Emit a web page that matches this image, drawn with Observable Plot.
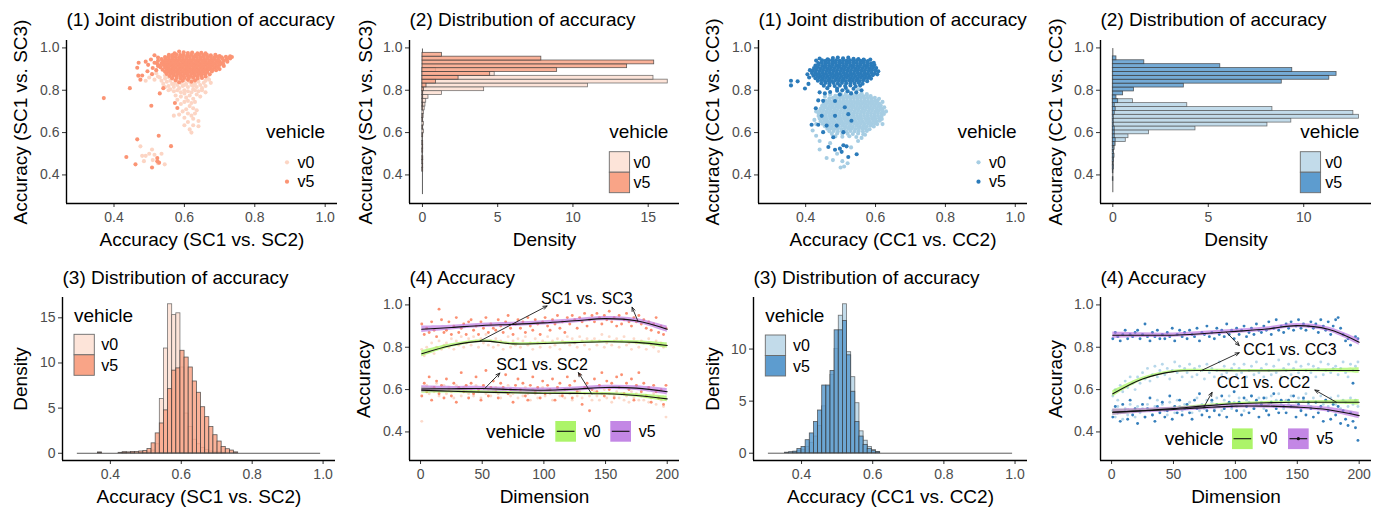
<!DOCTYPE html>
<html>
<head>
<meta charset="utf-8">
<title>Accuracy distributions</title>
<script src="https://cdn.jsdelivr.net/npm/d3@7"></script>
<script src="https://cdn.jsdelivr.net/npm/@observablehq/plot@0.6"></script>
<style>
  html, body { margin: 0; padding: 0; background: #ffffff; }
  #figure { position: relative; width: 1385px; height: 510px; overflow: hidden; }
  #figure > div { position: absolute; }
  #figure svg { display: block; }
</style>
</head>
<body>
<div id="figure"></div>
<script>
// ------------------------------------------------------------------
// Data
// ------------------------------------------------------------------
const vehicles = ["v0", "v5"];

// (1) joint accuracy per sample: flat [x, y, x, y, ...] lists
const scJointV0 = [
  0.50,0.86, 0.515,0.85, 0.525,0.865, 0.535,0.845, 0.54,0.83, 0.545,0.855, 0.55,0.84, 0.555,0.82, 0.56,0.845, 0.565,0.83,
  0.57,0.815, 0.575,0.84, 0.58,0.825, 0.585,0.81, 0.59,0.835, 0.595,0.82, 0.60,0.80, 0.605,0.83, 0.61,0.815, 0.615,0.84,
  0.62,0.825, 0.625,0.805, 0.63,0.83, 0.635,0.815, 0.64,0.84, 0.645,0.825, 0.65,0.81, 0.655,0.835, 0.66,0.82,
  0.555,0.862, 0.565,0.855, 0.585,0.852, 0.60,0.848, 0.62,0.852, 0.64,0.855, 0.555,0.80, 0.545,0.815, 0.57,0.83,
  0.60,0.825, 0.625,0.82, 0.65,0.80, 0.66,0.79,
  0.56,0.805, 0.57,0.795, 0.58,0.80, 0.59,0.79, 0.60,0.785, 0.61,0.795, 0.62,0.79, 0.63,0.80, 0.64,0.795, 0.575,0.775,
  0.59,0.77, 0.605,0.765, 0.615,0.775, 0.625,0.76, 0.635,0.78, 0.645,0.77, 0.58,0.755, 0.60,0.745, 0.61,0.75, 0.62,0.74,
  0.63,0.745, 0.59,0.735, 0.615,0.725, 0.625,0.715, 0.605,0.71, 0.635,0.705, 0.595,0.70, 0.61,0.69, 0.62,0.68, 0.63,0.69,
  0.585,0.685, 0.60,0.67, 0.625,0.665, 0.57,0.68, 0.64,0.655, 0.61,0.65, 0.625,0.635, 0.64,0.63, 0.62,0.60, 0.615,0.615,
  0.60,0.635, 0.53,0.86, 0.545,0.87, 0.66,0.845, 0.665,0.86, 0.67,0.85, 0.675,0.835, 0.52,0.88, 0.49,0.845,
  0.475,0.535, 0.48,0.49, 0.49,0.49, 0.508,0.52, 0.51,0.47, 0.515,0.495, 0.525,0.455, 0.535,0.50, 0.544,0.45, 0.485,0.465, 0.50,0.50
];
const scJointV5 = [
  0.572,0.975, 0.585,0.983, 0.598,0.979, 0.61,0.976, 0.622,0.978, 0.637,0.975, 0.648,0.977, 0.66,0.974,
  0.556,0.968, 0.566,0.966, 0.577,0.969, 0.588,0.967, 0.598,0.968, 0.609,0.966, 0.62,0.969, 0.631,0.966, 0.642,0.968, 0.653,0.966, 0.664,0.967, 0.675,0.965, 0.688,0.968, 0.70,0.962,
  0.545,0.957, 0.555,0.959, 0.565,0.957, 0.575,0.958, 0.585,0.956, 0.595,0.958, 0.605,0.957, 0.615,0.959, 0.625,0.957, 0.635,0.958, 0.645,0.956, 0.655,0.958, 0.665,0.957, 0.675,0.958, 0.685,0.956, 0.695,0.958, 0.706,0.956, 0.718,0.958, 0.728,0.955, 0.735,0.957,
  0.535,0.947, 0.546,0.949, 0.556,0.947, 0.566,0.948, 0.576,0.946, 0.586,0.948, 0.596,0.947, 0.606,0.949, 0.616,0.947, 0.626,0.948, 0.636,0.946, 0.646,0.948, 0.656,0.947, 0.666,0.949, 0.676,0.947, 0.686,0.948, 0.696,0.946, 0.708,0.949, 0.72,0.947, 0.73,0.95,
  0.525,0.939, 0.54,0.937, 0.55,0.938, 0.56,0.936, 0.57,0.938, 0.58,0.937, 0.59,0.939, 0.60,0.937, 0.61,0.938, 0.62,0.936, 0.63,0.938, 0.64,0.937, 0.65,0.939, 0.66,0.937, 0.67,0.938, 0.68,0.936, 0.69,0.938, 0.70,0.937, 0.712,0.939,
  0.522,0.927, 0.535,0.929, 0.545,0.927, 0.555,0.928, 0.565,0.926, 0.575,0.928, 0.585,0.927, 0.595,0.929, 0.605,0.927, 0.615,0.928, 0.625,0.926, 0.635,0.928, 0.645,0.927, 0.655,0.929, 0.665,0.927, 0.675,0.928, 0.685,0.926, 0.695,0.929, 0.705,0.927,
  0.53,0.917, 0.54,0.919, 0.55,0.917, 0.56,0.918, 0.57,0.916, 0.58,0.918, 0.59,0.917, 0.60,0.919, 0.61,0.917, 0.62,0.918, 0.63,0.916, 0.64,0.918, 0.65,0.917, 0.66,0.919, 0.67,0.917, 0.68,0.918, 0.69,0.916, 0.70,0.919, 0.712,0.915,
  0.532,0.909, 0.545,0.907, 0.555,0.908, 0.565,0.906, 0.575,0.908, 0.585,0.907, 0.595,0.909, 0.605,0.907, 0.615,0.908, 0.625,0.906, 0.635,0.908, 0.645,0.907, 0.655,0.909, 0.665,0.907, 0.675,0.908, 0.685,0.906, 0.695,0.908,
  0.538,0.897, 0.55,0.899, 0.56,0.897, 0.57,0.898, 0.58,0.896, 0.59,0.898, 0.60,0.897, 0.61,0.899, 0.62,0.897, 0.63,0.898, 0.64,0.896, 0.65,0.898, 0.66,0.897, 0.67,0.899, 0.68,0.897, 0.69,0.895,
  0.545,0.887, 0.555,0.889, 0.565,0.887, 0.575,0.888, 0.585,0.886, 0.595,0.888, 0.605,0.887, 0.615,0.889, 0.625,0.887, 0.635,0.888, 0.645,0.886, 0.655,0.888, 0.665,0.887, 0.678,0.889,
  0.55,0.877, 0.56,0.879, 0.57,0.877, 0.58,0.878, 0.59,0.876, 0.60,0.878, 0.61,0.877, 0.62,0.879, 0.63,0.877, 0.64,0.878, 0.65,0.876, 0.66,0.878, 0.672,0.875,
  0.558,0.867, 0.568,0.869, 0.578,0.867, 0.588,0.868, 0.598,0.866, 0.608,0.868, 0.618,0.867, 0.628,0.869, 0.638,0.867, 0.648,0.868, 0.66,0.865,
  0.565,0.857, 0.578,0.859, 0.59,0.856, 0.60,0.858, 0.612,0.857, 0.625,0.859, 0.637,0.856, 0.65,0.858,
  0.575,0.847, 0.595,0.845, 0.61,0.849, 0.63,0.846, 0.585,0.838, 0.62,0.84,
  0.49,0.935, 0.497,0.92, 0.505,0.945, 0.51,0.905, 0.515,0.93, 0.48,0.87, 0.495,0.89, 0.508,0.876, 0.52,0.895, 0.525,0.915,
  0.47,0.93, 0.525,0.955, 0.515,0.965, 0.469,0.869, 0.466,0.906, 0.475,0.85, 0.722,0.935, 0.73,0.96, 0.70,0.90, 0.71,0.925,
  0.371,0.763, 0.445,0.81, 0.506,0.727, 0.58,0.716, 0.466,0.568, 0.527,0.585, 0.562,0.536, 0.435,0.485, 0.461,0.45,
  0.508,0.435, 0.523,0.48, 0.523,0.465, 0.528,0.458, 0.573,0.74, 0.53,0.785, 0.54,0.81
];
const ccJointV0 = [
  0.50,0.786, 0.515,0.783, 0.53,0.787, 0.545,0.784, 0.56,0.786, 0.575,0.782, 0.52,0.80, 0.55,0.805,
  0.485,0.774, 0.495,0.776, 0.505,0.773, 0.515,0.775, 0.525,0.772, 0.535,0.776, 0.545,0.774, 0.555,0.775, 0.565,0.773, 0.575,0.776, 0.586,0.772,
  0.468,0.762, 0.478,0.764, 0.488,0.761, 0.498,0.763, 0.508,0.761, 0.518,0.764, 0.528,0.762, 0.538,0.763, 0.548,0.761, 0.558,0.764, 0.568,0.762, 0.578,0.763, 0.588,0.761, 0.598,0.764,
  0.458,0.750, 0.468,0.752, 0.478,0.749, 0.488,0.751, 0.498,0.749, 0.508,0.752, 0.518,0.750, 0.528,0.751, 0.538,0.749, 0.548,0.752, 0.558,0.750, 0.568,0.751, 0.578,0.749, 0.588,0.752, 0.598,0.750, 0.606,0.751,
  0.452,0.738, 0.462,0.740, 0.472,0.737, 0.482,0.739, 0.492,0.737, 0.502,0.740, 0.512,0.738, 0.522,0.739, 0.532,0.737, 0.542,0.740, 0.552,0.738, 0.562,0.739, 0.572,0.737, 0.582,0.740, 0.592,0.738, 0.602,0.739, 0.611,0.736,
  0.447,0.726, 0.457,0.728, 0.467,0.725, 0.477,0.727, 0.487,0.725, 0.497,0.728, 0.507,0.726, 0.517,0.727, 0.527,0.725, 0.537,0.728, 0.547,0.726, 0.557,0.727, 0.567,0.725, 0.577,0.728, 0.587,0.726, 0.597,0.727, 0.607,0.725, 0.615,0.728,
  0.443,0.714, 0.453,0.716, 0.463,0.713, 0.473,0.715, 0.483,0.713, 0.493,0.716, 0.503,0.714, 0.513,0.715, 0.523,0.713, 0.533,0.716, 0.543,0.714, 0.553,0.715, 0.563,0.713, 0.573,0.716, 0.583,0.714, 0.593,0.715, 0.603,0.713, 0.613,0.716, 0.62,0.712,
  0.44,0.702, 0.45,0.704, 0.46,0.701, 0.47,0.703, 0.48,0.701, 0.49,0.704, 0.50,0.702, 0.51,0.703, 0.52,0.701, 0.53,0.704, 0.54,0.702, 0.55,0.703, 0.56,0.701, 0.57,0.704, 0.58,0.702, 0.59,0.703, 0.60,0.701, 0.61,0.704, 0.62,0.70,
  0.437,0.690, 0.447,0.692, 0.457,0.689, 0.467,0.691, 0.477,0.689, 0.487,0.692, 0.497,0.690, 0.507,0.691, 0.517,0.689, 0.527,0.692, 0.537,0.690, 0.547,0.691, 0.557,0.689, 0.567,0.692, 0.577,0.690, 0.587,0.691, 0.597,0.689, 0.607,0.692, 0.617,0.690, 0.624,0.688,
  0.437,0.678, 0.447,0.680, 0.457,0.677, 0.467,0.679, 0.477,0.677, 0.487,0.680, 0.497,0.678, 0.507,0.679, 0.517,0.677, 0.527,0.680, 0.537,0.678, 0.547,0.679, 0.557,0.677, 0.567,0.680, 0.577,0.678, 0.587,0.679, 0.597,0.677, 0.607,0.680, 0.617,0.676,
  0.44,0.666, 0.45,0.668, 0.46,0.665, 0.47,0.667, 0.48,0.665, 0.49,0.668, 0.50,0.666, 0.51,0.667, 0.52,0.665, 0.53,0.668, 0.54,0.666, 0.55,0.667, 0.56,0.665, 0.57,0.668, 0.58,0.666, 0.59,0.667, 0.60,0.665, 0.61,0.668, 0.618,0.664,
  0.443,0.654, 0.453,0.656, 0.463,0.653, 0.473,0.655, 0.483,0.653, 0.493,0.656, 0.503,0.654, 0.513,0.655, 0.523,0.653, 0.533,0.656, 0.543,0.654, 0.553,0.655, 0.563,0.653, 0.573,0.656, 0.583,0.654, 0.593,0.655, 0.603,0.653, 0.612,0.656,
  0.448,0.642, 0.458,0.644, 0.468,0.641, 0.478,0.643, 0.488,0.641, 0.498,0.644, 0.508,0.642, 0.518,0.643, 0.528,0.641, 0.538,0.644, 0.548,0.642, 0.558,0.643, 0.568,0.641, 0.578,0.644, 0.588,0.642, 0.598,0.643, 0.605,0.640,
  0.455,0.630, 0.465,0.632, 0.475,0.629, 0.485,0.631, 0.495,0.629, 0.505,0.632, 0.515,0.630, 0.525,0.631, 0.535,0.629, 0.545,0.632, 0.555,0.630, 0.565,0.631, 0.575,0.629, 0.585,0.632, 0.595,0.629,
  0.462,0.618, 0.472,0.620, 0.482,0.617, 0.492,0.619, 0.502,0.617, 0.512,0.620, 0.522,0.618, 0.532,0.619, 0.542,0.617, 0.552,0.620, 0.562,0.618, 0.572,0.619, 0.583,0.616,
  0.468,0.606, 0.48,0.608, 0.492,0.605, 0.504,0.607, 0.516,0.605, 0.528,0.608, 0.54,0.606, 0.552,0.607, 0.564,0.605, 0.575,0.608,
  0.475,0.594, 0.49,0.596, 0.505,0.593, 0.52,0.595, 0.535,0.593, 0.55,0.596, 0.565,0.592,
  0.485,0.582, 0.505,0.580, 0.525,0.583, 0.545,0.579, 0.43,0.585,
  0.44,0.52, 0.46,0.48, 0.478,0.47, 0.50,0.435, 0.51,0.44, 0.52,0.455, 0.505,0.465, 0.49,0.50, 0.47,0.55, 0.53,0.53,
  0.55,0.56, 0.56,0.575, 0.57,0.59, 0.44,0.56, 0.42,0.61, 0.43,0.64, 0.425,0.66, 0.43,0.70, 0.62,0.64, 0.63,0.70,
  0.625,0.72, 0.61,0.76, 0.47,0.78, 0.455,0.77, 0.62,0.745
];
const ccJointV5 = [
  0.478,0.952, 0.492,0.955, 0.507,0.951, 0.522,0.954, 0.537,0.949, 0.551,0.947, 0.463,0.946, 0.566,0.945,
  0.447,0.941, 0.457,0.939, 0.467,0.942, 0.477,0.940, 0.487,0.942, 0.497,0.939, 0.507,0.941, 0.517,0.939, 0.527,0.942, 0.537,0.940, 0.547,0.942, 0.557,0.939, 0.567,0.941, 0.578,0.938,
  0.436,0.929, 0.446,0.931, 0.456,0.928, 0.466,0.930, 0.476,0.928, 0.486,0.931, 0.496,0.929, 0.506,0.930, 0.516,0.928, 0.526,0.931, 0.536,0.929, 0.546,0.930, 0.556,0.928, 0.566,0.931, 0.576,0.929, 0.587,0.927,
  0.428,0.917, 0.438,0.919, 0.448,0.916, 0.458,0.918, 0.468,0.916, 0.478,0.919, 0.488,0.917, 0.498,0.918, 0.508,0.916, 0.518,0.919, 0.528,0.917, 0.538,0.918, 0.548,0.916, 0.558,0.919, 0.568,0.917, 0.578,0.918, 0.588,0.916, 0.597,0.919,
  0.424,0.905, 0.433,0.907, 0.443,0.904, 0.453,0.906, 0.463,0.904, 0.473,0.907, 0.483,0.905, 0.493,0.906, 0.503,0.904, 0.513,0.907, 0.523,0.905, 0.533,0.906, 0.543,0.904, 0.553,0.907, 0.563,0.905, 0.573,0.906, 0.583,0.904, 0.593,0.907, 0.602,0.905,
  0.420,0.893, 0.430,0.895, 0.440,0.892, 0.450,0.894, 0.460,0.892, 0.470,0.895, 0.480,0.893, 0.490,0.894, 0.500,0.892, 0.510,0.895, 0.520,0.893, 0.530,0.894, 0.540,0.892, 0.550,0.895, 0.560,0.893, 0.570,0.894, 0.580,0.892, 0.590,0.895, 0.600,0.893,
  0.418,0.881, 0.428,0.883, 0.438,0.880, 0.448,0.882, 0.458,0.880, 0.468,0.883, 0.478,0.881, 0.488,0.882, 0.498,0.880, 0.508,0.883, 0.518,0.881, 0.528,0.882, 0.538,0.880, 0.548,0.883, 0.558,0.881, 0.568,0.882, 0.578,0.880, 0.588,0.883, 0.598,0.879,
  0.422,0.869, 0.432,0.871, 0.442,0.868, 0.452,0.870, 0.462,0.868, 0.472,0.871, 0.482,0.869, 0.492,0.870, 0.502,0.868, 0.512,0.871, 0.522,0.869, 0.532,0.870, 0.542,0.868, 0.552,0.871, 0.562,0.869, 0.572,0.870, 0.582,0.868, 0.592,0.871,
  0.428,0.857, 0.438,0.859, 0.448,0.856, 0.458,0.858, 0.468,0.856, 0.478,0.859, 0.488,0.857, 0.498,0.858, 0.508,0.856, 0.518,0.859, 0.528,0.857, 0.538,0.858, 0.548,0.856, 0.558,0.859, 0.568,0.857, 0.578,0.858, 0.587,0.855,
  0.435,0.845, 0.445,0.847, 0.455,0.844, 0.465,0.846, 0.475,0.844, 0.485,0.847, 0.495,0.845, 0.505,0.846, 0.515,0.844, 0.525,0.847, 0.535,0.845, 0.545,0.846, 0.555,0.844, 0.565,0.847, 0.576,0.843,
  0.445,0.833, 0.457,0.835, 0.468,0.832, 0.480,0.834, 0.492,0.832, 0.504,0.835, 0.516,0.833, 0.528,0.834, 0.540,0.832, 0.552,0.835, 0.563,0.831,
  0.452,0.821, 0.468,0.823, 0.483,0.820, 0.498,0.822, 0.513,0.820, 0.528,0.823, 0.543,0.819, 0.556,0.822,
  0.462,0.81, 0.49,0.808, 0.515,0.811, 0.537,0.807, 0.505,0.80,
  0.44,0.79, 0.455,0.785, 0.47,0.792, 0.49,0.798, 0.52,0.795, 0.53,0.785, 0.545,0.79, 0.56,0.80, 0.41,0.86, 0.405,0.875,
  0.412,0.895, 0.608,0.89, 0.605,0.875, 0.595,0.93, 0.585,0.945, 0.43,0.94, 0.44,0.95,
  0.358,0.845, 0.358,0.823, 0.377,0.842, 0.398,0.808, 0.408,0.83, 0.436,0.752, 0.45,0.75, 0.484,0.749, 0.498,0.78, 0.512,0.72,
  0.429,0.715, 0.446,0.679, 0.484,0.679, 0.46,0.633, 0.489,0.633, 0.417,0.637, 0.436,0.637, 0.522,0.687, 0.531,0.656, 0.479,0.578,
  0.508,0.602, 0.465,0.532, 0.498,0.524, 0.503,0.509, 0.517,0.535, 0.522,0.485, 0.546,0.498, 0.484,0.519, 0.508,0.54, 0.45,0.602
];

// (2) density of accuracy (SC1 vs. SC3 / CC1 vs. CC3), equal-width bins, lowest bin first
const scSC3BinStart = 0.307, scSC3BinWidth = 0.0181;
const scSC3DensityV0 = [0,0,0,0,0,0,0.05,0,0.05,0.05,0.03,0.05,0,0.05,0.03,0.05,0.1,0.05,0.1,0.05,
  0.08,0.1,0.15,0.2,0.25,0.4,1.3,4.1,11.0,16.3,15.35,4.8,0.9,0,0,0,0,0];
const scSC3DensityV5 = [0,0,0,0,0,0,0.03,0.05,0.03,0.05,0,0.03,0.05,0.03,0,0.03,0,0.03,0,0.03,
  0.03,0,0.03,0.05,0.03,0.05,0.05,0.1,0.27,0.9,2.4,4.5,8.95,13.6,15.4,7.9,1.3,0];
const ccCC3BinStart = 0.316, ccCC3BinWidth = 0.0184;
const ccCC3DensityV0 = [0,0,0,0,0,0,0.03,0.05,0.05,0.08,0.05,0.1,0.15,0.68,0.82,1.9,4.33,8.1,9.35,12.9,
  12.6,8.36,3.9,1.06,0.1,0,0,0,0,0,0,0,0,0,0,0,0];
const ccCC3DensityV5 = [0,0,0,0.03,0,0.03,0.05,0.03,0.05,0.08,0.05,0.05,0.1,0.15,0.1,0.1,0.1,0.05,0.05,0.05,
  0.1,0.15,0.1,0.28,0.19,0.54,1.11,3.72,8.85,11.34,11.72,9.4,5.63,1.65,0.19,0,0];

// (3) density of accuracy (SC1 vs. SC2 / CC1 vs. CC2), equal-width bins, lowest bin first
const pairBinStart = 0.3069, pairBinWidth = 0.01163;
const scSC2DensityV0 = [0,0,0,0,0,0.1,0,0,0,0,0,0.1,0,0.05,0,0.05,0.05,0.1,0.3,1.0,
  6.0,11.6,16.5,15.3,15.5,9.5,4.4,2.9,1.5,1.0,0.6,0.35,0.2,0.1,0.1,0.05,0,0,0,0,
  0,0,0,0,0,0,0,0,0,0,0,0,0,0,0,0,0,0,0];
const scSC2DensityV5 = [0,0,0,0,0,0.05,0,0,0,0,0.05,0.1,0.1,0.15,0.15,0.2,0.25,0.47,1.1,2.2,
  3.3,4.75,7.1,9.15,9.4,11.35,10.6,9.5,7.95,6.7,5.1,4.0,2.9,2.0,1.3,0.7,0.45,0.3,0.1,0,
  0,0,0,0,0,0,0,0,0,0,0,0,0,0,0,0,0,0,0];
const ccCC2DensityV0 = [0,0,0,0,0,0,0.1,0.2,0.3,0.6,1.0,1.6,2.6,4.5,6.4,7.5,10.0,13.2,14.3,9.7,
  7.3,4.8,2.1,1.2,0.6,0.3,0.1,0,0,0,0,0,0,0,0,0,0,0,0,0,
  0,0,0,0,0,0,0,0,0,0,0,0,0,0,0,0,0,0,0];
const ccCC2DensityV5 = [0,0,0,0,0.05,0.1,0.15,0.4,0.6,1.25,1.9,3.0,4.1,6.5,6.5,7.9,11.8,11.8,12.7,9.4,
  5.9,3.0,1.6,0.8,0.4,0.2,0.1,0,0,0,0,0,0,0,0,0,0,0,0,0,
  0,0,0,0,0,0,0,0,0,0,0,0,0,0,0,0,0,0,0];

// (4) accuracy per dimension (dimensions 1, 3, 5, ..., 199)
const scAcc3V0 = [0.79,0.76,0.80,0.78,0.82,0.77,0.80,0.83,0.79,0.81, 0.82,0.80,0.84,0.79,0.83,0.81,0.85,0.80,0.82,0.84,
  0.81,0.85,0.83,0.80,0.84,0.82,0.86,0.81,0.83,0.80, 0.84,0.81,0.83,0.79,0.82,0.85,0.80,0.83,0.81,0.84,
  0.80,0.83,0.85,0.81,0.82,0.79,0.84,0.82,0.80,0.83, 0.82,0.85,0.80,0.83,0.81,0.84,0.79,0.83,0.82,0.85,
  0.81,0.84,0.82,0.80,0.85,0.83,0.81,0.84,0.79,0.83, 0.84,0.81,0.83,0.86,0.80,0.82,0.85,0.81,0.83,0.84,
  0.80,0.83,0.85,0.81,0.82,0.79,0.84,0.82,0.80,0.83, 0.82,0.79,0.84,0.81,0.80,0.83,0.78,0.82,0.80,0.81];
const scAcc3V5 = [0.91,0.86,0.89,0.87,0.92,0.88,0.85,0.98,0.93,0.87, 0.88,0.92,0.86,0.90,0.94,0.87,0.89,0.91,0.86,0.92,
  0.93,0.88,0.90,0.86,0.92,0.89,0.94,0.87,0.91,0.89, 0.88,0.93,0.90,0.87,0.92,0.95,0.89,0.86,0.91,0.93,
  0.89,0.92,0.87,0.94,0.90,0.88,0.93,0.91,0.86,0.92, 0.94,0.90,0.88,0.93,0.91,0.95,0.89,0.92,0.87,0.94,
  0.91,0.95,0.93,0.89,0.94,0.92,0.96,0.90,0.93,0.95, 0.92,0.96,0.94,0.91,0.95,0.93,0.97,0.92,0.94,0.90,
  0.95,0.91,0.93,0.96,0.92,0.90,0.94,0.92,0.95,0.91, 0.93,0.89,0.92,0.88,0.91,0.94,0.87,0.90,0.86,0.89];
const scAcc2V0 = [0.45,0.60,0.62,0.58,0.61,0.59,0.63,0.57,0.60,0.62, 0.58,0.61,0.59,0.56,0.62,0.60,0.57,0.61,0.59,0.58,
  0.60,0.57,0.62,0.59,0.56,0.61,0.58,0.60,0.57,0.59, 0.61,0.58,0.56,0.60,0.59,0.62,0.57,0.58,0.60,0.56,
  0.59,0.57,0.61,0.58,0.55,0.60,0.58,0.56,0.59,0.61, 0.57,0.60,0.58,0.55,0.59,0.61,0.57,0.58,0.56,0.60,
  0.58,0.55,0.60,0.57,0.59,0.56,0.58,0.61,0.57,0.55, 0.59,0.57,0.55,0.58,0.60,0.56,0.58,0.54,0.57,0.59,
  0.56,0.58,0.55,0.57,0.54,0.59,0.56,0.58,0.55,0.57, 0.55,0.57,0.54,0.56,0.58,0.53,0.56,0.55,0.52,0.47];
const scAcc2V5 = [0.57,0.63,0.59,0.66,0.55,0.61,0.64,0.58,0.62,0.56, 0.65,0.60,0.57,0.63,0.54,0.61,0.68,0.59,0.62,0.56,
  0.63,0.58,0.66,0.60,0.55,0.62,0.69,0.57,0.61,0.64, 0.59,0.56,0.63,0.61,0.67,0.58,0.60,0.54,0.62,0.65,
  0.60,0.63,0.57,0.55,0.62,0.66,0.59,0.61,0.56,0.64, 0.58,0.62,0.60,0.65,0.55,0.61,0.63,0.57,0.60,0.66,
  0.62,0.56,0.64,0.59,0.67,0.53,0.61,0.63,0.50,0.60, 0.65,0.59,0.62,0.68,0.57,0.64,0.60,0.63,0.56,0.66,
  0.61,0.67,0.58,0.63,0.60,0.65,0.55,0.62,0.68,0.59, 0.63,0.57,0.61,0.54,0.62,0.59,0.56,0.60,0.53,0.62];
const ccAcc3V0 = [0.57,0.60,0.55,0.62,0.59,0.64,0.61,0.66,0.63,0.60, 0.66,0.63,0.68,0.65,0.70,0.64,0.67,0.71,0.66,0.69,
  0.72,0.67,0.70,0.65,0.69,0.73,0.68,0.71,0.66,0.70, 0.68,0.72,0.66,0.70,0.67,0.71,0.69,0.65,0.72,0.68,
  0.70,0.66,0.69,0.73,0.67,0.71,0.68,0.65,0.70,0.72, 0.67,0.70,0.68,0.72,0.66,0.69,0.71,0.67,0.73,0.68,
  0.70,0.66,0.72,0.69,0.67,0.71,0.68,0.74,0.66,0.70, 0.69,0.72,0.67,0.70,0.73,0.68,0.71,0.66,0.69,0.72,
  0.68,0.71,0.66,0.70,0.73,0.67,0.69,0.72,0.68,0.70, 0.71,0.67,0.70,0.73,0.68,0.66,0.72,0.69,0.71,0.73];
const ccAcc3V5 = [0.84,0.87,0.85,0.83,0.86,0.88,0.84,0.86,0.85,0.87, 0.88,0.84,0.86,0.91,0.85,0.83,0.87,0.85,0.88,0.84,
  0.86,0.84,0.87,0.85,0.89,0.83,0.86,0.88,0.85,0.87, 0.84,0.88,0.86,0.85,0.89,0.83,0.87,0.86,0.90,0.85,
  0.87,0.84,0.89,0.86,0.88,0.85,0.91,0.86,0.88,0.84, 0.89,0.86,0.88,0.90,0.85,0.87,0.89,0.86,0.91,0.88,
  0.87,0.90,0.88,0.92,0.86,0.89,0.93,0.88,0.90,0.87, 0.91,0.89,0.92,0.88,0.90,0.93,0.89,0.91,0.88,0.90,
  0.92,0.89,0.91,0.87,0.93,0.90,0.88,0.92,0.86,0.90, 0.93,0.94,0.89,0.86,0.83,0.84,0.81,0.63,0.85,0.84];
const ccAcc2V0 = [0.50,0.47,0.52,0.49,0.46,0.51,0.48,0.53,0.50,0.47, 0.52,0.49,0.51,0.47,0.53,0.50,0.48,0.52,0.55,0.50,
  0.53,0.50,0.48,0.54,0.51,0.49,0.55,0.52,0.50,0.53, 0.51,0.54,0.49,0.52,0.56,0.50,0.53,0.51,0.55,0.52,
  0.54,0.51,0.56,0.52,0.50,0.55,0.53,0.57,0.51,0.54, 0.52,0.56,0.53,0.50,0.55,0.54,0.57,0.51,0.53,0.56,
  0.54,0.51,0.56,0.53,0.57,0.52,0.55,0.58,0.53,0.51, 0.55,0.53,0.57,0.52,0.54,0.56,0.51,0.55,0.58,0.53,
  0.52,0.56,0.54,0.51,0.57,0.53,0.55,0.52,0.56,0.54, 0.53,0.57,0.51,0.55,0.54,0.52,0.56,0.53,0.55,0.52];
const ccAcc2V5 = [0.47,0.52,0.49,0.45,0.53,0.50,0.46,0.55,0.48,0.51, 0.44,0.50,0.53,0.47,0.51,0.56,0.48,0.45,0.52,0.49,
  0.54,0.47,0.50,0.57,0.46,0.52,0.49,0.55,0.48,0.51, 0.53,0.49,0.46,0.55,0.51,0.58,0.48,0.52,0.50,0.47,
  0.55,0.50,0.53,0.48,0.57,0.51,0.47,0.54,0.52,0.59, 0.50,0.54,0.48,0.56,0.52,0.49,0.57,0.51,0.55,0.47,
  0.53,0.56,0.50,0.48,0.54,0.58,0.51,0.49,0.55,0.52, 0.49,0.55,0.52,0.57,0.47,0.53,0.50,0.56,0.48,0.54,
  0.51,0.47,0.54,0.49,0.52,0.45,0.55,0.50,0.46,0.53, 0.48,0.52,0.44,0.50,0.46,0.43,0.49,0.45,0.42,0.36];

// loess fits of the accuracy curves at fixed dimensions, with standard-error half widths
const smoothDims = [1, 25, 50, 75, 100, 125, 150, 175, 200];
const scFit3V0 = [0.769, 0.808, 0.829, 0.816, 0.818, 0.822, 0.826, 0.823, 0.808];
const scFit3V5 = [0.885, 0.893, 0.903, 0.908, 0.915, 0.925, 0.935, 0.925, 0.885];
const scFit2V0 = [0.597, 0.592, 0.588, 0.585, 0.583, 0.582, 0.580, 0.572, 0.556];
const scFit2V5 = [0.603, 0.604, 0.605, 0.600, 0.597, 0.602, 0.610, 0.607, 0.590];
const ccFit3V0 = [0.580, 0.650, 0.685, 0.690, 0.689, 0.689, 0.690, 0.690, 0.690];
const ccFit3V5 = [0.857, 0.857, 0.857, 0.865, 0.875, 0.886, 0.902, 0.885, 0.824];
const ccFit2V0 = [0.493, 0.500, 0.510, 0.523, 0.533, 0.538, 0.540, 0.540, 0.540];
const ccFit2V5 = [0.493, 0.500, 0.506, 0.515, 0.522, 0.522, 0.517, 0.505, 0.477];
const fitHalfV0 = [0.014, 0.008, 0.006, 0.006, 0.006, 0.006, 0.006, 0.008, 0.013];
const fitHalfV5 = [0.015, 0.011, 0.010, 0.010, 0.010, 0.010, 0.010, 0.011, 0.015];

// curve labels and the arrows that tie them to the curves (dimension, accuracy)
const scLabels = [
  {label: "SC1 vs. SC3", dim: 134.8, acc: 1.005},
  {label: "SC1 vs. SC2", dim: 98.6, acc: 0.693}
];
const scArrows = [
  {d1: 48, a1: 0.829, d2: 102.6, a2: 0.995},
  {d1: 176.3, a1: 0.922, d2: 171.5, a2: 0.989},
  {d1: 51.7, a1: 0.603, d2: 64.3, a2: 0.678},
  {d1: 138.8, a1: 0.579, d2: 128, a2: 0.68}
];
const ccLabels = [
  {label: "CC1 vs. CC3", dim: 144.1, acc: 0.762},
  {label: "CC1 vs. CC2", dim: 122.7, acc: 0.606}
];
const ccArrows = [
  {d1: 92.7, a1: 0.871, d2: 103.1, a2: 0.808},
  {d1: 71.8, a1: 0.688, d2: 103.1, a2: 0.774},
  {d1: 74.5, a1: 0.517, d2: 81.2, a2: 0.587},
  {d1: 181.7, a1: 0.54, d2: 164.2, a2: 0.598}
];

// ------------------------------------------------------------------
// Shared styling and helpers
// ------------------------------------------------------------------
const FONT = '"Liberation Sans", Arial, Helvetica, sans-serif';
const ACC_DOMAIN = [0.265, 1.035];
const ACC_TICKS = [0.4, 0.6, 0.8, 1.0];
const fmtAcc = d3.format(".1f");
const fmtInt = d3.format("d");
const DIM_DOMAIN = [-8.95, 209.95];

const COLORS = {
  scPoint: ["#fcd5c4", "#fb9474"],
  scBar: ["#fde4d9", "#f9a487"],
  scDim: ["#fcd3c2", "#fb8a6a"],
  ccPoint: ["#a6cde3", "#2b7bba"],
  ccBar: ["#c2dbea", "#5d9ccf"],
  ccDim: ["#a9d0e6", "#2a78b8"],
  fit: ["#9ef24f", "#b872e0"]
};

const toPairs = flat => d3.range(0, flat.length, 2).map(i => [flat[i], flat[i + 1]]);
const toBins = (start, width, dens) => dens.map((d, i) => ({lo: start + i * width, hi: start + (i + 1) * width, density: d}));
const toDims = values => values.map((v, i) => ({dim: 1 + 2 * i, acc: v}));
const toFit = (values, half) => values.map((v, i) => ({dim: smoothDims[i], acc: v, lo: v - half[i], hi: v + half[i]}));

function frameMarks(o) {
  return [
    Plot.axisX({ticks: o.xTicks, tickFormat: o.xFormat, tickSize: 4, tickPadding: 5, fontSize: 14,
      fill: "#4d4d4d", stroke: "#333", label: null}),
    Plot.axisY({ticks: o.yTicks, tickFormat: o.yFormat, tickSize: 4, tickPadding: 3, fontSize: 14,
      fill: "#4d4d4d", stroke: "#333", label: null}),
    Plot.ruleY([o.yDomain[0]], {stroke: "#000", strokeWidth: 1.4}),
    Plot.ruleX([o.xDomain[0]], {stroke: "#000", strokeWidth: 1.4}),
    Plot.text([o.title], {frameAnchor: "top-left", textAnchor: "start", lineAnchor: "bottom",
      dy: o.titleDy, fontSize: 19, fill: "#000"}),
    Plot.text([o.xTitle], {frameAnchor: "bottom", textAnchor: "middle", lineAnchor: "bottom", dy: 42,
      fontSize: 19, fill: "#000"}),
    Plot.text([o.yTitle], {frameAnchor: "left", textAnchor: "middle", rotate: -90, lineAnchor: "top",
      dx: o.yTitleDx, fontSize: 19, fill: "#000"})
  ];
}

function makePanel(o) {
  return Plot.plot({
    width: o.width, height: 255,
    marginLeft: o.ml, marginRight: o.mr, marginTop: o.mt, marginBottom: o.mb,
    style: {fontFamily: FONT, background: "transparent", overflow: "visible"},
    x: {domain: o.xDomain},
    y: {domain: o.yDomain},
    marks: [...o.marks, ...frameMarks(o), ...(o.legend ? [o.legend] : [])]
  });
}

function place(chart, left, top) {
  const holder = document.createElement("div");
  holder.style.left = left + "px";
  holder.style.top = top + "px";
  holder.appendChild(chart);
  document.getElementById("figure").appendChild(holder);
}

function legendGroup() {
  return d3.create("svg:g").attr("font-family", FONT).attr("text-anchor", "start").attr("fill", "#000");
}

// legend: coloured dots (scatter panels)
function dotLegend(colors, x0) {
  return () => {
    const g = legendGroup();
    g.append("text").attr("x", x0).attr("y", 138).attr("font-size", 19).text("vehicle");
    vehicles.forEach((lab, i) => {
      const cy = 162.3 + i * 19.4;
      g.append("circle").attr("cx", x0 + 21).attr("cy", cy).attr("r", 2.1).attr("fill", colors[i]);
      g.append("text").attr("x", x0 + 31.5).attr("y", cy).attr("dy", "0.35em").attr("font-size", 16).text(lab);
    });
    return g.node();
  };
}

// legend: filled boxes (histogram panels)
function boxLegend(colors, x0, titleY, boxTop, labelGap) {
  return () => {
    const g = legendGroup();
    g.append("text").attr("x", x0).attr("y", titleY).attr("font-size", 19).text("vehicle");
    vehicles.forEach((lab, i) => {
      const y = boxTop + i * 20.5;
      g.append("rect").attr("x", x0).attr("y", y).attr("width", 20.3).attr("height", 20.5)
        .attr("fill", colors[i]).attr("stroke", "#6b6b6b").attr("stroke-width", 0.9);
      g.append("text").attr("x", x0 + 20.3 + labelGap).attr("y", y + 10.5).attr("dy", "0.35em")
        .attr("font-size", 16).text(lab);
    });
    return g.node();
  };
}

// legend: ribbon boxes with the fitted line (accuracy curves)
function fitLegend(titleX, titleY, cy, keys) {
  return () => {
    const g = legendGroup();
    g.append("text").attr("x", titleX).attr("y", titleY).attr("font-size", 19).text("vehicle");
    keys.forEach((k, i) => {
      g.append("rect").attr("x", k.x).attr("y", cy - 10.3).attr("width", 20.7).attr("height", 20.7)
        .attr("fill", COLORS.fit[i]).attr("fill-opacity", 0.85);
      g.append("line").attr("x1", k.x + 1.5).attr("x2", k.x + 19.2).attr("y1", cy).attr("y2", cy)
        .attr("stroke", "#111").attr("stroke-width", 1.1);
      if (k.dot) g.append("circle").attr("cx", k.x + 10.35).attr("cy", cy).attr("r", 1.6).attr("fill", "#111");
      g.append("text").attr("x", k.x + 28.5).attr("y", cy).attr("dy", "0.35em").attr("font-size", 16).text(vehicles[i]);
    });
    return g.node();
  };
}

// histograms: overlaid v0 / v5 bars plus the zero line over the binned range
function histMarksX(binsV0, binsV5, colors) {
  const lo = binsV0[0].lo, hi = binsV0[binsV0.length - 1].hi;
  return [
    Plot.ruleX([0], {y1: () => lo, y2: () => hi, stroke: "#4a4a4a", strokeWidth: 0.9}),
    Plot.rect(binsV0.filter(d => d.density > 0), {x1: () => 0, x2: "density", y1: "lo", y2: "hi", fill: colors[0],
      stroke: "#4a4a4a", strokeOpacity: 0.75, strokeWidth: 0.8}),
    Plot.rect(binsV5.filter(d => d.density > 0), {x1: () => 0, x2: "density", y1: "lo", y2: "hi", fill: colors[1],
      fillOpacity: 0.85, stroke: "#3a3a3a", strokeOpacity: 0.8, strokeWidth: 0.8})
  ];
}
function histMarksY(binsV0, binsV5, colors) {
  const lo = binsV0[0].lo, hi = binsV0[binsV0.length - 1].hi;
  return [
    Plot.ruleY([0], {x1: () => lo, x2: () => hi, stroke: "#4a4a4a", strokeWidth: 0.9}),
    Plot.rect(binsV0.filter(d => d.density > 0), {x1: "lo", x2: "hi", y1: () => 0, y2: "density", fill: colors[0],
      stroke: "#4a4a4a", strokeOpacity: 0.75, strokeWidth: 0.8}),
    Plot.rect(binsV5.filter(d => d.density > 0), {x1: "lo", x2: "hi", y1: () => 0, y2: "density", fill: colors[1],
      fillOpacity: 0.85, stroke: "#3a3a3a", strokeOpacity: 0.8, strokeWidth: 0.8})
  ];
}

function accuracyMarks(series, dotColors, fits, labels, arrows) {
  const marks = [];
  series.forEach(s => marks.push(Plot.dot(toDims(s.values), {x: "dim", y: "acc", r: 1.45,
    fill: dotColors[s.vehicle], fillOpacity: s.vehicle === 0 ? 0.85 : 0.95})));
  fits.forEach(f => marks.push(Plot.areaY(f.data, {x: "dim", y1: "lo", y2: "hi", curve: "catmull-rom",
    fill: COLORS.fit[f.vehicle], fillOpacity: 0.65})));
  fits.forEach(f => marks.push(Plot.lineY(f.data, {x: "dim", y: "acc", curve: "catmull-rom",
    stroke: "#111", strokeWidth: 1.1})));
  marks.push(Plot.arrow(arrows, {x1: "d1", y1: "a1", x2: "d2", y2: "a2", stroke: "#1a1a1a",
    strokeWidth: 0.9, headLength: 7, headAngle: 45}));
  marks.push(Plot.text(labels, {x: "dim", y: "acc", text: "label", fontSize: 16, lineAnchor: "bottom", fill: "#000"}));
  return marks;
}

// ------------------------------------------------------------------
// Row 1: joint distribution and distribution of the second accuracy
// ------------------------------------------------------------------
place(makePanel({
  width: 346, ml: 66, mr: 9, mt: 40, mb: 52,
  xDomain: ACC_DOMAIN, yDomain: ACC_DOMAIN,
  xTicks: ACC_TICKS, xFormat: fmtAcc, yTicks: ACC_TICKS, yFormat: fmtAcc,
  title: "(1) Joint distribution of accuracy", titleDy: -15,
  xTitle: "Accuracy (SC1 vs. SC2)", yTitle: "Accuracy (SC1 vs. SC3)", yTitleDx: -53,
  marks: [
    Plot.dot(toPairs(scJointV0), {x: d => d[0], y: d => d[1], r: 2.05, fill: COLORS.scPoint[0]}),
    Plot.dot(toPairs(scJointV5), {x: d => d[0], y: d => d[1], r: 2.05, fill: COLORS.scPoint[1]})
  ],
  legend: dotLegend(COLORS.scPoint, 266)
}), 0, 0);

place(makePanel({
  width: 346, ml: 63, mr: 13, mt: 40, mb: 52,
  xDomain: [-0.86, 17.08], yDomain: ACC_DOMAIN,
  xTicks: [0, 5, 10, 15], xFormat: fmtInt, yTicks: ACC_TICKS, yFormat: fmtAcc,
  title: "(2) Distribution of accuracy", titleDy: -15,
  xTitle: "Density", yTitle: "Accuracy (SC1 vs. SC3)", yTitleDx: -51,
  marks: histMarksX(toBins(scSC3BinStart, scSC3BinWidth, scSC3DensityV0),
                    toBins(scSC3BinStart, scSC3BinWidth, scSC3DensityV5), COLORS.scBar),
  legend: boxLegend(COLORS.scBar, 263.3, 138.3, 151.7, 4)
}), 346, 0);

place(makePanel({
  width: 346, ml: 66, mr: 11, mt: 40, mb: 52,
  xDomain: ACC_DOMAIN, yDomain: ACC_DOMAIN,
  xTicks: ACC_TICKS, xFormat: fmtAcc, yTicks: ACC_TICKS, yFormat: fmtAcc,
  title: "(1) Joint distribution of accuracy", titleDy: -15,
  xTitle: "Accuracy (CC1 vs. CC2)", yTitle: "Accuracy (CC1 vs. CC3)", yTitleDx: -53,
  marks: [
    Plot.dot(toPairs(ccJointV0), {x: d => d[0], y: d => d[1], r: 2.05, fill: COLORS.ccPoint[0]}),
    Plot.dot(toPairs(ccJointV5), {x: d => d[0], y: d => d[1], r: 2.05, fill: COLORS.ccPoint[1]})
  ],
  legend: dotLegend(COLORS.ccPoint, 265.5)
}), 692, 0);

place(makePanel({
  width: 347, ml: 62, mr: 14, mt: 40, mb: 52,
  xDomain: [-0.645, 13.55], yDomain: ACC_DOMAIN,
  xTicks: [0, 5, 10], xFormat: fmtInt, yTicks: ACC_TICKS, yFormat: fmtAcc,
  title: "(2) Distribution of accuracy", titleDy: -15,
  xTitle: "Density", yTitle: "Accuracy (CC1 vs. CC3)", yTitleDx: -52,
  marks: histMarksX(toBins(ccCC3BinStart, ccCC3BinWidth, ccCC3DensityV0),
                    toBins(ccCC3BinStart, ccCC3BinWidth, ccCC3DensityV5), COLORS.ccBar),
  legend: boxLegend(COLORS.ccBar, 262.3, 138.3, 151.7, 4.6)
}), 1038, 0);

// ------------------------------------------------------------------
// Row 2: distribution of the first accuracy and accuracy per dimension
// ------------------------------------------------------------------
place(makePanel({
  width: 346, ml: 62, mr: 11, mt: 42, mb: 50,
  xDomain: ACC_DOMAIN, yDomain: [-0.8, 17.25],
  xTicks: ACC_TICKS, xFormat: fmtAcc, yTicks: [0, 5, 10, 15], yFormat: fmtInt,
  title: "(3) Distribution of accuracy", titleDy: -13.5,
  xTitle: "Accuracy (SC1 vs. SC2)", yTitle: "Density", yTitleDx: -49,
  marks: histMarksY(toBins(pairBinStart, pairBinWidth, scSC2DensityV0),
                    toBins(pairBinStart, pairBinWidth, scSC2DensityV5), COLORS.scBar),
  legend: boxLegend(COLORS.scBar, 74, 66.7, 79.3, 7)
}), 0, 255);

place(makePanel({
  width: 346, ml: 63, mr: 13, mt: 42, mb: 50,
  xDomain: DIM_DOMAIN, yDomain: ACC_DOMAIN,
  xTicks: [0, 50, 100, 150, 200], xFormat: fmtInt, yTicks: ACC_TICKS, yFormat: fmtAcc,
  title: "(4) Accuracy", titleDy: -13.5,
  xTitle: "Dimension", yTitle: "Accuracy", yTitleDx: -53,
  marks: accuracyMarks(
    [{vehicle: 0, values: scAcc3V0}, {vehicle: 0, values: scAcc2V0},
     {vehicle: 1, values: scAcc3V5}, {vehicle: 1, values: scAcc2V5}],
    COLORS.scDim,
    [{vehicle: 0, data: toFit(scFit3V0, fitHalfV0)}, {vehicle: 0, data: toFit(scFit2V0, fitHalfV0)},
     {vehicle: 1, data: toFit(scFit3V5, fitHalfV5)}, {vehicle: 1, data: toFit(scFit2V5, fitHalfV5)}],
    scLabels, scArrows),
  legend: fitLegend(140, 182.7, 176.3, [{x: 209.3}, {x: 264.3}])
}), 346, 255);

place(makePanel({
  width: 346, ml: 61, mr: 11, mt: 42, mb: 50,
  xDomain: ACC_DOMAIN, yDomain: [-0.7, 14.95],
  xTicks: ACC_TICKS, xFormat: fmtAcc, yTicks: [0, 5, 10], yFormat: fmtInt,
  title: "(3) Distribution of accuracy", titleDy: -13.5,
  xTitle: "Accuracy (CC1 vs. CC2)", yTitle: "Density", yTitleDx: -48,
  marks: histMarksY(toBins(pairBinStart, pairBinWidth, ccCC2DensityV0),
                    toBins(pairBinStart, pairBinWidth, ccCC2DensityV5), COLORS.ccBar),
  legend: boxLegend(COLORS.ccBar, 73.3, 66.7, 80, 7.5)
}), 692, 255);

place(makePanel({
  width: 347, ml: 62, mr: 14, mt: 42, mb: 50,
  xDomain: DIM_DOMAIN, yDomain: ACC_DOMAIN,
  xTicks: [0, 50, 100, 150, 200], xFormat: fmtInt, yTicks: ACC_TICKS, yFormat: fmtAcc,
  title: "(4) Accuracy", titleDy: -13.5,
  xTitle: "Dimension", yTitle: "Accuracy", yTitleDx: -52,
  marks: accuracyMarks(
    [{vehicle: 0, values: ccAcc3V0}, {vehicle: 0, values: ccAcc2V0},
     {vehicle: 1, values: ccAcc3V5}, {vehicle: 1, values: ccAcc2V5}],
    COLORS.ccDim,
    [{vehicle: 0, data: toFit(ccFit3V0, fitHalfV0)}, {vehicle: 0, data: toFit(ccFit2V0, fitHalfV0)},
     {vehicle: 1, data: toFit(ccFit3V5, fitHalfV5)}, {vehicle: 1, data: toFit(ccFit2V5, fitHalfV5)}],
    ccLabels, ccArrows),
  legend: fitLegend(126.7, 190, 183.7, [{x: 194}, {x: 250, dot: true}])
}), 1038, 255);
</script>
</body>
</html>
